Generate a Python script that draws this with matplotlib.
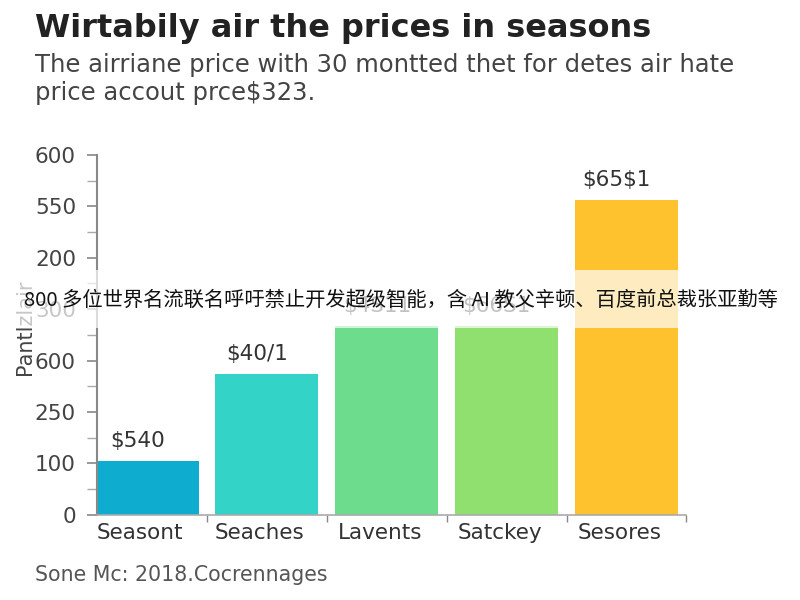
import matplotlib.pyplot as plt
from matplotlib.ticker import MultipleLocator
from matplotlib.transforms import ScaledTranslation

plt.rcParams['font.family'] = ['DejaVu Sans', 'Noto Sans CJK SC']

categories = ["Seasont", "Seaches", "Lavents", "Satckey", "Sesores"]
bar_heights = [1.05, 2.74, 3.68, 3.68, 6.13]
bar_labels = [r"\$540", r"\$40/1", r"\$4S11", r"\$66S1", r"\$65\$1"]
bar_colors = ["#0eadd0", "#34d3c8", "#6ddc8d", "#90e06f", "#fdc22e"]
ytick_labels = ["0", "100", "250", "600", "300", "200", "550", "600"]

title = "Wirtabily air the prices in seasons"
subtitle = "The airriane price with 30 montted thet for detes air hate\nprice accout prce\\$323."
ylabel = "Pantlzlair"
source = "Sone Mc: 2018.Cocrennages"
banner = "800 多位世界名流联名呼吁禁止开发超级智能，含 AI 教父辛顿、百度前总裁张亚勤等"


def draw():
    fig = plt.figure(figsize=(8, 6), dpi=100)
    ax = fig.add_axes([0.121, 0.142, 0.737, 0.600])

    x = list(range(len(categories)))
    ax.bar(x, bar_heights, width=0.86, color=bar_colors, zorder=2)
    for xi, h, lab in zip(x, bar_heights, bar_labels):
        ax.annotate(lab, (xi, h), xytext=(-7, 7), textcoords="offset points",
                    ha="center", va="bottom", fontsize=15.5, color="#333333")

    ax.set_xlim(-0.42, 4.5)
    ax.set_ylim(0, 7)
    ax.set_yticks(range(len(ytick_labels)))
    ax.set_yticklabels(ytick_labels)
    ax.yaxis.set_minor_locator(MultipleLocator(0.5))
    ax.set_xticks(x)
    ax.set_xticklabels(categories)
    ax.set_xticks([0.5, 1.5, 2.5, 3.5, 4.5], minor=True)

    ax.tick_params(axis="y", which="major", length=7, width=1.2, color="#888888",
                   labelsize=15.5, labelcolor="#444444", pad=8)
    ax.tick_params(axis="y", which="minor", length=7, width=1.0, color="#aaaaaa")
    ax.tick_params(axis="x", which="major", length=0, labelsize=15.5,
                   labelcolor="#333333", pad=6)
    ax.tick_params(axis="x", which="minor", length=5, width=1.0, color="#888888")
    shift = ScaledTranslation(-7 / 100, 0, fig.dpi_scale_trans)
    for lbl in ax.get_xticklabels():
        lbl.set_transform(lbl.get_transform() + shift)

    for s in ["top", "right"]:
        ax.spines[s].set_visible(False)
    ax.spines["left"].set_color("#888888")
    ax.spines["left"].set_linewidth(1.5)
    ax.spines["bottom"].set_color("#aaaaaa")
    ax.spines["bottom"].set_linewidth(1.2)

    ax.set_ylabel(ylabel, fontsize=15, color="#444444")
    ax.yaxis.set_label_coords(-0.105, 0.52)

    fig.text(0.044, 0.953, title, fontsize=23, fontweight="bold", color="#222222",
             ha="left", va="center")
    fig.text(0.044, 0.868, subtitle, fontsize=17.5, color="#444444", ha="left",
             va="center", linespacing=1.2)
    fig.text(0.044, 0.042, source, fontsize=14.8, color="#555555", ha="left", va="center")

    # white banner over the middle
    fig.patches.append(plt.Rectangle((0, 0.453), 1, 0.097, transform=fig.transFigure,
                                     facecolor="white", alpha=0.7, edgecolor="none",
                                     zorder=5))
    fig.text(0.03, 0.5, banner, fontsize=14.6, color="#111111", ha="left", va="center",
             family=["Noto Sans CJK SC", "DejaVu Sans"], zorder=6)

    fig.savefig("out.png", dpi=100, facecolor="white")


draw()
